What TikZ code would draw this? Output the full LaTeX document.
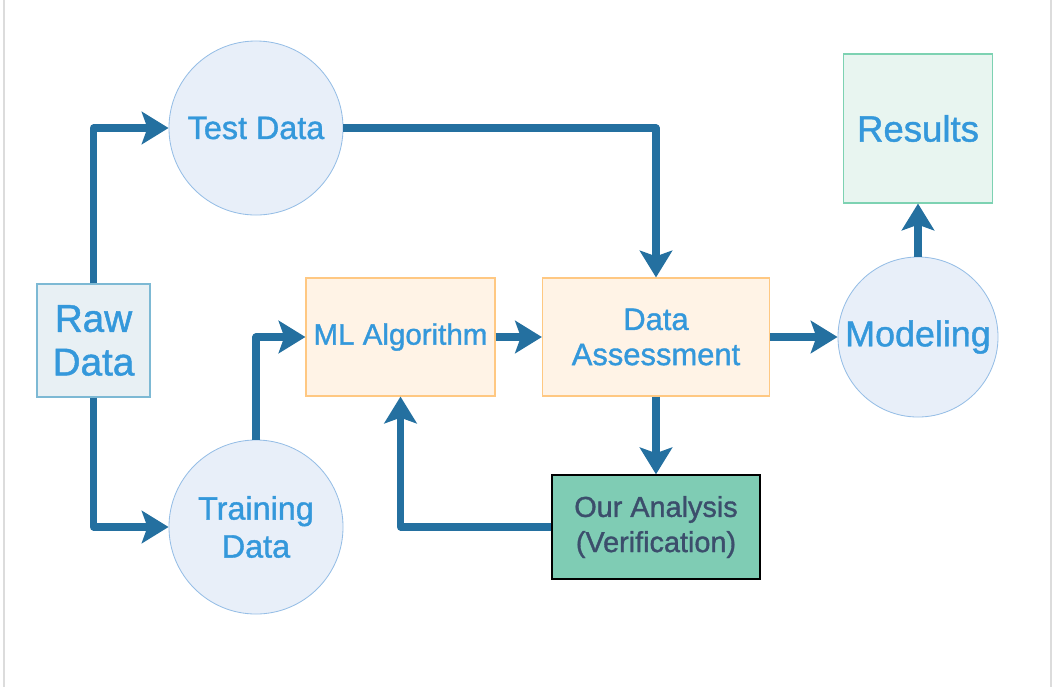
\documentclass[tikz,border=0pt]{standalone}
\usepackage{fontspec}
\setmainfont[FakeBold=1.2]{Liberation Sans}
\usetikzlibrary{arrows.meta,graphs}

\definecolor{flowblue}{RGB}{36,112,160}
\definecolor{textblue}{RGB}{52,152,219}
\definecolor{circlefill}{RGB}{232,239,249}
\definecolor{circleline}{RGB}{150,190,230}
\definecolor{rawfill}{RGB}{232,240,244}
\definecolor{rawline}{RGB}{125,185,212}
\definecolor{stepfill}{RGB}{255,243,230}
\definecolor{stepline}{RGB}{255,200,130}
\definecolor{resultfill}{RGB}{232,245,240}
\definecolor{resultline}{RGB}{125,210,178}
\definecolor{checkfill}{RGB}{127,204,180}
\definecolor{checktext}{RGB}{60,78,108}
\definecolor{framegray}{RGB}{220,220,220}

\tikzset{
	flow/.style={line width=5pt, draw=flowblue, line join=round},
	vhroute/.style={to path={|- (\tikztotarget) \tikztonodes}},
	hvroute/.style={to path={-| (\tikztotarget) \tikztonodes}},
	datacircle/.style={circle, draw=circleline, fill=circlefill, line width=0.6pt, inner sep=0pt, align=center, text=textblue},
	stepbox/.style={rectangle, draw=stepline, fill=stepfill, line width=0.8pt, inner sep=0pt, align=center, text=textblue, minimum height=2.95cm},
}

\begin{document}
\begin{tikzpicture}[x=0.025cm, y=-0.025cm, >={Stealth[length=19pt, width=23pt, inset=4pt]}]
		\useasboundingbox (0,0) rectangle (1054,687);
		\draw[framegray, line width=0.8pt] (4,0) -- (4,687);
		\draw[framegray, line width=0.8pt] (1051,0) -- (1051,687);
		
		\node (raw) at (93.5,340.5) [rectangle, draw=rawline, fill=rawfill, line width=0.8pt, minimum size=2.825cm, inner sep=0pt, align=center, text=textblue, font=\fontsize{27.5}{31}\selectfont] {Raw\\Data};
		\node (test) at (256,128) [datacircle, minimum size=4.35cm, font=\fontsize{23}{27}\selectfont] {Test Data};
		\node (train) at (256,527) [datacircle, minimum size=4.35cm, font=\fontsize{23}{27}\selectfont] {Training\\Data};
		\node (ml) at (400.5,337) [stepbox, minimum width=4.725cm, font=\fontsize{21}{25}\selectfont] {ML Algorithm};
		\node (assess) at (656,337) [stepbox, minimum width=5.675cm, font=\fontsize{22}{25}\selectfont] {Data\\Assessment};
		\node (model) at (918,337) [datacircle, minimum size=4cm, font=\fontsize{25.5}{29}\selectfont] {Modeling};
		\node (results) at (918,128.5) [rectangle, draw=resultline, fill=resultfill, line width=0.8pt, minimum size=3.725cm, inner sep=0pt, text=textblue, font=\fontsize{26}{30}\selectfont] {Results};
		\node (verify) at (656,527) [rectangle, draw=black, fill=checkfill, line width=1pt, minimum width=5.2cm, minimum height=2.6cm, inner sep=0pt, align=center, text=checktext, font=\fontsize{20.5}{25}\selectfont] {Our Analysis\\(Verification)};
		
		\graph[edges={flow}] {
			(raw) ->[vhroute] (test);
			(raw) ->[vhroute] (train);
			(train) ->[vhroute] (ml);
			(ml) -> (assess);
			(test) ->[hvroute] (assess);
			(assess) -> (verify);
			(verify) ->[hvroute] (ml);
			(assess) -> (model);
			(model) -> (results);
		};
	\end{tikzpicture}
\end{document}
